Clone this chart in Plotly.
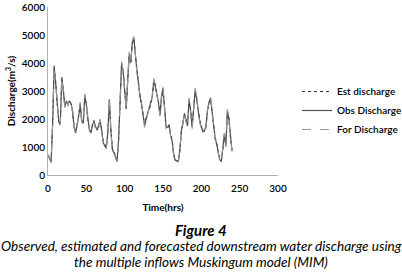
import plotly.graph_objects as go

time_hrs = list(range(0, 242, 2))

obs_discharge = [720, 600, 450, 1800, 3900, 3300, 2500, 1900, 1800, 3500,
                 3000, 2450, 2650, 2500, 2650, 2550, 2300, 1700, 1500, 1800,
                 2100, 2550, 1900, 1850, 2850, 2500, 2000, 1600, 1500, 1800,
                 1900, 1700, 1600, 1750, 1950, 1600, 1150, 1050, 950, 1500,
                 2700, 1600, 900, 800, 600, 480, 1200, 2800, 4000, 3700,
                 3000, 2350, 3400, 4350, 4000, 4750, 4900, 4200, 3700, 3300,
                 2800, 2550, 2100, 1750, 2000, 2200, 2350, 2500, 2800, 3400,
                 3200, 2900, 2600, 2150, 2800, 3100, 2400, 1700, 1700, 1800,
                 1400, 1200, 700, 520, 500, 480, 900, 1600, 1850, 2200,
                 1950, 1750, 2700, 2300, 1700, 2400, 3050, 2700, 2300, 1900,
                 1700, 1550, 1600, 1700, 2300, 2600, 2750, 2300, 1800, 1300,
                 1100, 800, 550, 480, 900, 1450, 1050, 2300, 2000, 1250,
                 850]

est_discharge = [700, 620, 480, 1750, 3850, 3350, 2550, 1950, 1850, 3450,
                 3050, 2500, 2600, 2550, 2600, 2600, 2250, 1750, 1550, 1750,
                 2150, 2500, 1950, 1900, 2800, 2550, 1950, 1650, 1550, 1750,
                 1950, 1650, 1650, 1700, 1900, 1650, 1200, 1100, 1000, 1450,
                 2650, 1650, 950, 850, 620, 500, 1150, 2750, 3950, 3750,
                 3050, 2400, 3350, 4300, 4050, 4700, 4850, 4250, 3750, 3250,
                 2850, 2500, 2150, 1800, 2050, 2250, 2300, 2550, 2750, 3350,
                 3250, 2850, 2650, 2200, 2750, 3050, 2450, 1750, 1650, 1750,
                 1450, 1250, 750, 550, 520, 500, 850, 1550, 1900, 2150,
                 2000, 1800, 2650, 2350, 1750, 2350, 3000, 2750, 2250, 1950,
                 1750, 1600, 1550, 1750, 2250, 2550, 2700, 2350, 1850, 1350,
                 1150, 850, 580, 500, 850, 1400, 1100, 2250, 2050, 1300,
                 880]

for_discharge = [740, 580, 470, 1850, 3880, 3250, 2450, 1900, 1780, 3480,
                 2950, 2400, 2700, 2450, 2700, 2500, 2350, 1700, 1480, 1850,
                 2050, 2600, 1850, 1850, 2900, 2450, 2050, 1600, 1480, 1850,
                 1850, 1750, 1580, 1800, 2000, 1550, 1100, 1000, 930, 1550,
                 2750, 1550, 880, 780, 580, 470, 1250, 2850, 4050, 3650,
                 2950, 2300, 3450, 4400, 3950, 4800, 4950, 4150, 3650, 3350,
                 2750, 2600, 2050, 1700, 1950, 2150, 2400, 2450, 2850, 3450,
                 3150, 2950, 2550, 2100, 2850, 3150, 2350, 1650, 1750, 1850,
                 1350, 1150, 680, 500, 490, 470, 950, 1650, 1800, 2250,
                 1900, 1700, 2750, 2250, 1650, 2450, 3100, 2650, 2350, 1850,
                 1650, 1500, 1650, 1650, 2350, 2650, 2800, 2250, 1750, 1250,
                 1050, 780, 520, 470, 950, 1500, 1000, 2350, 1950, 1200,
                 820]

x_ticks = [0, 50, 100, 150, 200, 250, 300]
y_ticks = [0, 1000, 2000, 3000, 4000, 5000, 6000]

FONT = "Lato, 'Open Sans', sans-serif"
TICKFONT = dict(size=10, family=FONT, weight=600, color="black")

fig = go.Figure()
fig.add_trace(go.Scatter(x=time_hrs, y=est_discharge, mode="lines", name="Est discharge",
                         line=dict(color="#333333", width=1, dash="dot")))
fig.add_trace(go.Scatter(x=time_hrs, y=obs_discharge, mode="lines", name="Obs Discharge",
                         line=dict(color="#505050", width=1.2)))
fig.add_trace(go.Scatter(x=time_hrs, y=for_discharge, mode="lines", name="For Discharge",
                         line=dict(color="#999999", width=1, dash="dash")))

PX0, PX1, PY0, PY1 = 48, 278, 175, 7

def px(p):
    return (p - PX0) / (PX1 - PX0)

def py(p):
    return (PY0 - p) / (PY0 - PY1)

fig.update_layout(
    width=402, height=276,
    margin=dict(l=PX0, r=402 - PX1, t=PY1, b=276 - PY0, autoexpand=False),
    paper_bgcolor="white", plot_bgcolor="white",
    font=dict(family=FONT, size=10, color="black"),
    showlegend=True,
    legend=dict(x=px(297), y=py(77), xanchor="left", yanchor="top",
                font=dict(size=10, family=FONT, weight=600), tracegroupgap=0,
                itemwidth=30, bgcolor="rgba(0,0,0,0)"),
    xaxis=dict(range=[0, 300], tickvals=x_ticks, showgrid=False, zeroline=False,
               showline=True, linecolor="#b0b0b0", linewidth=1, ticks="",
               automargin=False, tickfont=TICKFONT, ticklabelstandoff=4,
               title=dict(text="<b>Time(hrs)</b>", font=dict(size=10, family=FONT), standoff=10)),
    yaxis=dict(range=[0, 6000], tickvals=y_ticks, showgrid=False, zeroline=False,
               showline=True, linecolor="#b0b0b0", linewidth=1, ticks="",
               automargin=False, tickfont=TICKFONT,
               title=dict(text="<b>Discharge(m<sup>3</sup>/s)</b>", font=dict(size=10, family=FONT), standoff=4)),
    annotations=[
        dict(text="<b><i>Figure 4</i></b>", xref="paper", yref="paper",
             x=px(201), y=py(230), showarrow=False,
             xanchor="center", yanchor="middle", font=dict(size=15, family=FONT)),
        dict(text="<i>Observed, estimated and forecasted downstream water discharge using</i>",
             xref="paper", yref="paper", x=px(201), y=py(246),
             showarrow=False, xanchor="center", yanchor="middle",
             font=dict(size=13.6, family=FONT)),
        dict(text="<i>the multiple inflows Muskingum model (MIM)</i>",
             xref="paper", yref="paper", x=px(201), y=py(262),
             showarrow=False, xanchor="center", yanchor="middle",
             font=dict(size=13.6, family=FONT)),
    ],
)

fig.write_html("out.html", config={"displayModeBar": False},
               post_script="document.body.style.margin='0';document.body.style.overflow='hidden';")
